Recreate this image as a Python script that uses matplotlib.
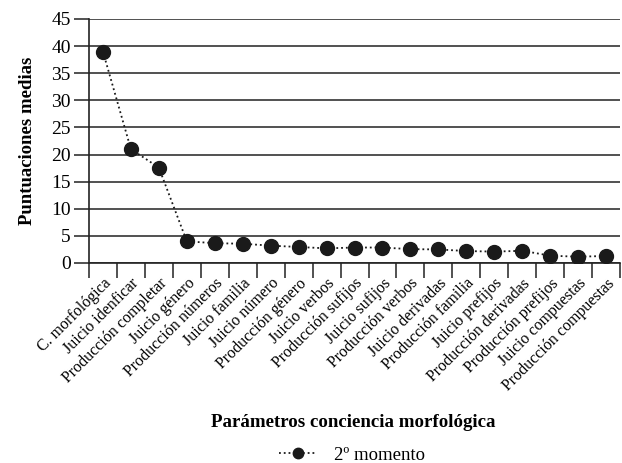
import matplotlib.pyplot as plt
import numpy as np

# Data
categorias = ["C. morfológica", "Juicio idenficar", "Producción completar",
              "Juicio género", "Producción números", "Juicio familia",
              "Juicio número", "Producción género", "Juicio verbos",
              "Producción sufijos", "Juicio sufijos", "Producción verbos",
              "Juicio derivadas", "Producción familia", "Juicio prefijos",
              "Producción derivadas", "Producción prefijos", "Juicio compuestas",
              "Producción compuestas"]
momento2 = [39.0, 21.0, 17.6, 4.0, 3.65, 3.55, 3.2, 2.95, 2.7, 2.85, 2.85,
            2.55, 2.5, 2.2, 2.1, 2.25, 1.35, 1.15, 1.3]
y_ticks = [0, 5, 10, 15, 20, 25, 30, 35, 40, 45]

plt.rcParams['font.family'] = ['Liberation Serif', 'DejaVu Serif']

fig = plt.figure(figsize=(6.22, 4.63), dpi=100)
ax = fig.add_axes([0.143, 0.432, 0.854, 0.527])

x = np.arange(len(categorias))
ax.plot(x, momento2, linestyle=':', color='#1a1a1a', linewidth=1.3,
        marker='o', markersize=10, markerfacecolor='#1a1a1a',
        markeredgecolor='#1a1a1a', label='2º momento', zorder=3)

ax.set_xlim(-0.5, len(categorias) - 0.5)
ax.set_ylim(0, 45)
ax.set_yticks(y_ticks)
ax.yaxis.grid(True, color='#222222', linewidth=1.1)
ax.set_axisbelow(True)
ax.tick_params(axis='y', direction='out', length=11, width=1.1,
               labelsize=14, pad=2, color='#222222')

ax.set_xticks(x)
ax.set_xticklabels(categorias, rotation=45, ha='right', rotation_mode='anchor',
                   fontsize=11.5)
ax.set_xticks(np.arange(-0.5, len(categorias), 1.0), minor=True)
ax.tick_params(axis='x', which='major', length=0, pad=9)
ax.tick_params(axis='x', which='minor', direction='out', length=11,
               width=1.1, color='#222222')

for s in ['top', 'right']:
    ax.spines[s].set_visible(False)
for s in ['left', 'bottom']:
    ax.spines[s].set_linewidth(1.2)
    ax.spines[s].set_color('#222222')

ax.set_ylabel('Puntuaciones medias', fontsize=13.5, fontweight='bold', labelpad=11)
fig.text(0.568, 0.078, 'Parámetros conciencia morfológica', ha='center',
         fontsize=13.6, fontweight='bold')

fig.legend(loc='lower center', bbox_to_anchor=(0.566, -0.038), frameon=False,
           fontsize=13.5, markerscale=0.75, handlelength=2.0, handletextpad=0.9)

plt.savefig('out.png', dpi=100)
